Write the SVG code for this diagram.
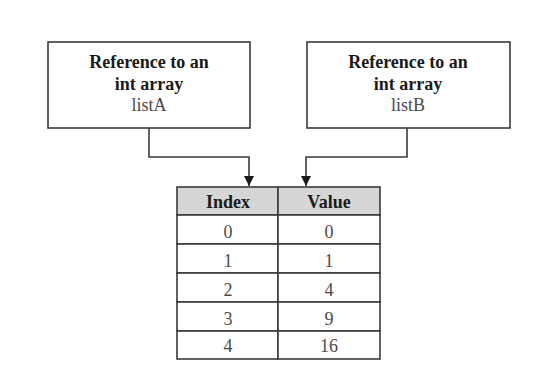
<svg xmlns="http://www.w3.org/2000/svg" width="540" height="383" viewBox="0 0 540 383">
  <style>
    .box { fill: #ffffff; stroke: #3a3a3a; stroke-width: 1.6; }
    .cell { fill: #ffffff; stroke: #3a3a3a; stroke-width: 1.6; }
    .head { fill: #d6d6d6; stroke: #3a3a3a; stroke-width: 1.6; }
    .wire { fill: none; stroke: #3a3a3a; stroke-width: 1.6; }
    .t { font-family: "Liberation Serif", "Times New Roman", serif; font-size: 18px; text-anchor: middle; fill: #1a1a1a; }
    .b { font-weight: bold; }
    .v { fill: #4a4a4a; }
  </style>
  <defs>
    <marker id="arrow" viewBox="0 0 10 10" refX="10" refY="5" markerWidth="10" markerHeight="10" markerUnits="userSpaceOnUse" orient="auto">
      <path d="M0,0 L10,5 L0,10 z" fill="#1a1a1a"/>
    </marker>
  </defs>
  <rect width="540" height="383" fill="#ffffff"/>

  <g id="refA">
    <rect class="box" x="48" y="42" width="202" height="86"/>
    <text class="t b" x="149" y="68">Reference to an</text>
    <text class="t b" x="149" y="90">int array</text>
    <text class="t v" x="149" y="111">listA</text>
  </g>

  <g id="refB">
    <rect class="box" x="307" y="42" width="203" height="86"/>
    <text class="t b" x="408" y="68">Reference to an</text>
    <text class="t b" x="408" y="90">int array</text>
    <text class="t v" x="408" y="111">listB</text>
  </g>

  <g id="connectors">
    <path class="wire" d="M149,128 V157 H249 V186" marker-end="url(#arrow)"/>
    <path class="wire" d="M407,128 V157 H306 V186" marker-end="url(#arrow)"/>
  </g>

  <g id="array">
    <rect class="head" x="177" y="187" width="101" height="28"/>
    <rect class="head" x="278" y="187" width="102" height="28"/>
    <text class="t b" x="228" y="208">Index</text>
    <text class="t b" x="329" y="208">Value</text>

    <rect class="cell" x="177" y="215" width="101" height="29"/>
    <rect class="cell" x="278" y="215" width="102" height="29"/>
    <text class="t v" x="228" y="238">0</text>
    <text class="t v" x="329" y="238">0</text>

    <rect class="cell" x="177" y="244" width="101" height="29"/>
    <rect class="cell" x="278" y="244" width="102" height="29"/>
    <text class="t v" x="228" y="267">1</text>
    <text class="t v" x="329" y="267">1</text>

    <rect class="cell" x="177" y="273" width="101" height="29"/>
    <rect class="cell" x="278" y="273" width="102" height="29"/>
    <text class="t v" x="228" y="296">2</text>
    <text class="t v" x="329" y="296">4</text>

    <rect class="cell" x="177" y="302" width="101" height="29"/>
    <rect class="cell" x="278" y="302" width="102" height="29"/>
    <text class="t v" x="228" y="325">3</text>
    <text class="t v" x="329" y="325">9</text>

    <rect class="cell" x="177" y="331" width="101" height="28"/>
    <rect class="cell" x="278" y="331" width="102" height="28"/>
    <text class="t v" x="228" y="352">4</text>
    <text class="t v" x="329" y="352">16</text>
  </g>
</svg>
